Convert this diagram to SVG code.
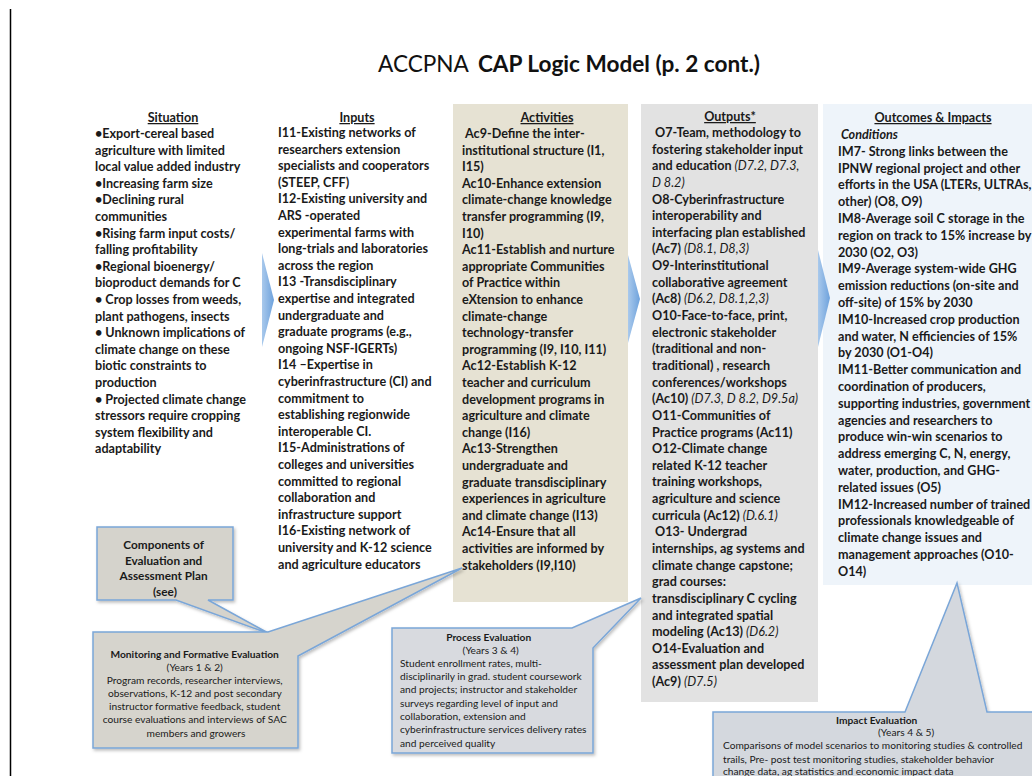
<svg xmlns="http://www.w3.org/2000/svg" width="1032" height="776" viewBox="0 0 1032 776">
<style>
.col{font-family:Lato,"Open Sans",sans-serif;font-weight:bold;font-size:12.6px;fill:#1a1a1a}
.hd{text-decoration:underline;text-anchor:middle}
.it{font-style:italic;font-weight:normal}
.co{font-family:Lato,"Open Sans",sans-serif;font-size:10.2px;fill:#1a1a1a}
.cb{font-weight:bold}
.big{font-size:11.8px}
.call{stroke:#7aa6d8;stroke-width:1.5;filter:url(#sh)}
.chev{fill:url(#cg)}
</style>
<defs>
<filter id="sh" x="-10%" y="-10%" width="130%" height="130%"><feDropShadow dx="1.5" dy="2" stdDeviation="1.5" flood-color="#000" flood-opacity="0.25"/></filter>
<linearGradient id="cg" x1="0" y1="0" x2="1" y2="0"><stop offset="0" stop-color="#a9c9ec"/><stop offset="1" stop-color="#6ea2dc"/></linearGradient>
</defs>
<rect width="1032" height="776" fill="#fff"/>
<line x1="10.5" y1="9" x2="10.5" y2="776" stroke="#000" stroke-width="1.5"/>
<text x="378" y="72" font-family="Lato,'Open Sans',sans-serif" font-size="22.6" fill="#111"><tspan>ACCPNA</tspan><tspan dx="9" font-weight="bold">CAP Logic Model (p. 2 cont.)</tspan></text>

<g id="backgrounds">
<rect x="453" y="104" width="175" height="498" fill="#e6e2d3"/>
<rect x="641" y="104" width="177" height="598" fill="#e2e2e2"/>
<rect x="823" y="104" width="215" height="481" fill="#eef4fa"/>
</g>

<g id="connectors">
<polygon class="chev" points="262,253 274,300 262,347"/>
<polygon class="chev" points="628,255 640,299 628,343"/>
<polygon class="chev" points="818,250 830,298 818,347"/>
</g>

<g id="situation">
<text class="col hd" x="173" y="122">Situation</text>
<text class="col" x="95" y="138">
<tspan x="95" dy="0">•Export-cereal based</tspan>
<tspan x="95" dy="16.6">agriculture with limited</tspan>
<tspan x="95" dy="16.6">local value added industry</tspan>
<tspan x="95" dy="16.6">•Increasing farm size</tspan>
<tspan x="95" dy="16.6">•Declining rural</tspan>
<tspan x="95" dy="16.6">communities</tspan>
<tspan x="95" dy="16.6">•Rising farm input costs/</tspan>
<tspan x="95" dy="16.6">falling profitability</tspan>
<tspan x="95" dy="16.6">•Regional bioenergy/</tspan>
<tspan x="95" dy="16.6">bioproduct demands for C</tspan>
<tspan x="95" dy="16.6">• Crop losses from weeds,</tspan>
<tspan x="95" dy="16.6">plant pathogens, insects</tspan>
<tspan x="95" dy="16.6">• Unknown implications of</tspan>
<tspan x="95" dy="16.6">climate change on these</tspan>
<tspan x="95" dy="16.6">biotic constraints to</tspan>
<tspan x="95" dy="16.6">production</tspan>
<tspan x="95" dy="16.6">• Projected climate change</tspan>
<tspan x="95" dy="16.6">stressors require cropping</tspan>
<tspan x="95" dy="16.6">system flexibility and</tspan>
<tspan x="95" dy="16.6">adaptability</tspan>
</text>
</g>

<g id="inputs">
<text class="col hd" x="357" y="122">Inputs</text>
<text class="col" x="278" y="137">
<tspan x="278" dy="0">I11-Existing networks of</tspan>
<tspan x="278" dy="16.6">researchers extension</tspan>
<tspan x="278" dy="16.6">specialists and cooperators</tspan>
<tspan x="278" dy="16.6">(STEEP, CFF)</tspan>
<tspan x="278" dy="16.6">I12-Existing university and</tspan>
<tspan x="278" dy="16.6">ARS -operated</tspan>
<tspan x="278" dy="16.6">experimental farms with</tspan>
<tspan x="278" dy="16.6">long-trials and laboratories</tspan>
<tspan x="278" dy="16.6">across the region</tspan>
<tspan x="278" dy="16.6">I13 -Transdisciplinary</tspan>
<tspan x="278" dy="16.6">expertise and integrated</tspan>
<tspan x="278" dy="16.6">undergraduate and</tspan>
<tspan x="278" dy="16.6">graduate programs (e.g.,</tspan>
<tspan x="278" dy="16.6">ongoing NSF-IGERTs)</tspan>
<tspan x="278" dy="16.6">I14 –Expertise in</tspan>
<tspan x="278" dy="16.6">cyberinfrastructure (CI) and</tspan>
<tspan x="278" dy="16.6">commitment to</tspan>
<tspan x="278" dy="16.6">establishing regionwide</tspan>
<tspan x="278" dy="16.6">interoperable CI.</tspan>
<tspan x="278" dy="16.6">I15-Administrations of</tspan>
<tspan x="278" dy="16.6">colleges and universities</tspan>
<tspan x="278" dy="16.6">committed to regional</tspan>
<tspan x="278" dy="16.6">collaboration and</tspan>
<tspan x="278" dy="16.6">infrastructure support</tspan>
<tspan x="278" dy="16.6">I16-Existing network of</tspan>
<tspan x="278" dy="16.6">university and K-12 science</tspan>
<tspan x="278" dy="16.6">and agriculture educators</tspan>
</text>
</g>

<g id="activities">
<text class="col hd" x="547" y="122">Activities</text>
<text class="col" x="462" y="138">
<tspan x="465" dy="0">Ac9-Define the inter-</tspan>
<tspan x="462" dy="16.6">institutional structure (I1,</tspan>
<tspan x="462" dy="16.6">I15)</tspan>
<tspan x="462" dy="16.6">Ac10-Enhance extension</tspan>
<tspan x="462" dy="16.6">climate-change knowledge</tspan>
<tspan x="462" dy="16.6">transfer programming (I9,</tspan>
<tspan x="462" dy="16.6">I10)</tspan>
<tspan x="462" dy="16.6">Ac11-Establish and nurture</tspan>
<tspan x="462" dy="16.6">appropriate Communities</tspan>
<tspan x="462" dy="16.6">of Practice within</tspan>
<tspan x="462" dy="16.6">eXtension to enhance</tspan>
<tspan x="462" dy="16.6">climate-change</tspan>
<tspan x="462" dy="16.6">technology-transfer</tspan>
<tspan x="462" dy="16.6">programming (I9, I10, I11)</tspan>
<tspan x="462" dy="16.6">Ac12-Establish K-12</tspan>
<tspan x="462" dy="16.6">teacher and curriculum</tspan>
<tspan x="462" dy="16.6">development programs in</tspan>
<tspan x="462" dy="16.6">agriculture and climate</tspan>
<tspan x="462" dy="16.6">change (I16)</tspan>
<tspan x="462" dy="16.6">Ac13-Strengthen</tspan>
<tspan x="462" dy="16.6">undergraduate and</tspan>
<tspan x="462" dy="16.6">graduate transdisciplinary</tspan>
<tspan x="462" dy="16.6">experiences in agriculture</tspan>
<tspan x="462" dy="16.6">and climate change (I13)</tspan>
<tspan x="462" dy="16.6">Ac14-Ensure that all</tspan>
<tspan x="462" dy="16.6">activities are informed by</tspan>
<tspan x="462" dy="16.6">stakeholders (I9,I10)</tspan>
</text>
</g>

<g id="outputs">
<text class="col hd" x="730" y="121">Outputs*</text>
<text class="col" x="652" y="137">
<tspan x="655" dy="0">O7-Team, methodology to</tspan>
<tspan x="652" dy="16.64">fostering stakeholder input</tspan>
<tspan x="652" dy="16.64">and education <tspan class="it">(D7.2, D7.3,</tspan></tspan>
<tspan x="652" dy="16.64" class="it">D 8.2)</tspan>
<tspan x="652" dy="16.64">O8-Cyberinfrastructure</tspan>
<tspan x="652" dy="16.64">interoperability and</tspan>
<tspan x="652" dy="16.64">interfacing plan established</tspan>
<tspan x="652" dy="16.64">(Ac7) <tspan class="it">(D8.1, D8,3)</tspan></tspan>
<tspan x="652" dy="16.64">O9-Interinstitutional</tspan>
<tspan x="652" dy="16.64">collaborative agreement</tspan>
<tspan x="652" dy="16.64">(Ac8) <tspan class="it">(D6.2, D8.1,2,3)</tspan></tspan>
<tspan x="652" dy="16.64">O10-Face-to-face, print,</tspan>
<tspan x="652" dy="16.64">electronic stakeholder</tspan>
<tspan x="652" dy="16.64">(traditional and non-</tspan>
<tspan x="652" dy="16.64">traditional) ,  research</tspan>
<tspan x="652" dy="16.64">conferences/workshops</tspan>
<tspan x="652" dy="16.64">(Ac10) <tspan class="it">(D7.3, D 8.2, D9.5a)</tspan></tspan>
<tspan x="652" dy="16.64">O11-Communities of</tspan>
<tspan x="652" dy="16.64">Practice programs (Ac11)</tspan>
<tspan x="652" dy="16.64">O12-Climate change</tspan>
<tspan x="652" dy="16.64">related K-12 teacher</tspan>
<tspan x="652" dy="16.64">training workshops,</tspan>
<tspan x="652" dy="16.64">agriculture and science</tspan>
<tspan x="652" dy="16.64">curricula (Ac12) <tspan class="it">(D.6.1)</tspan></tspan>
<tspan x="655" dy="16.64">O13- Undergrad</tspan>
<tspan x="652" dy="16.64">internships, ag systems and</tspan>
<tspan x="652" dy="16.64">climate change capstone;</tspan>
<tspan x="652" dy="16.64">grad courses:</tspan>
<tspan x="652" dy="16.64">transdisciplinary C  cycling</tspan>
<tspan x="652" dy="16.64">and integrated spatial</tspan>
<tspan x="652" dy="16.64">modeling (Ac13) <tspan class="it">(D6.2)</tspan></tspan>
<tspan x="652" dy="16.64">O14-Evaluation and</tspan>
<tspan x="652" dy="16.64">assessment plan developed</tspan>
<tspan x="652" dy="16.64">(Ac9) <tspan class="it">(D7.5)</tspan></tspan>
</text>
</g>

<g id="outcomes">
<text class="col hd" x="933" y="122">Outcomes &amp; Impacts</text>
<text class="col" x="838" y="139">
<tspan x="841" dy="0" font-style="italic">Conditions</tspan>
<tspan x="838" dy="16.8">IM7- Strong links between the</tspan>
<tspan x="838" dy="16.8">IPNW regional project and other</tspan>
<tspan x="838" dy="16.8">efforts in the USA (LTERs, ULTRAs,</tspan>
<tspan x="838" dy="16.8">other) (O8, O9)</tspan>
<tspan x="838" dy="16.8">IM8-Average soil C storage in the</tspan>
<tspan x="838" dy="16.8">region on track to 15% increase by</tspan>
<tspan x="838" dy="16.8">2030 (O2, O3)</tspan>
<tspan x="838" dy="16.8">IM9-Average system-wide GHG</tspan>
<tspan x="838" dy="16.8">emission reductions (on-site and</tspan>
<tspan x="838" dy="16.8">off-site) of 15% by 2030</tspan>
<tspan x="838" dy="16.8">IM10-Increased  crop production</tspan>
<tspan x="838" dy="16.8">and water, N efficiencies of  15%</tspan>
<tspan x="838" dy="16.8">by 2030  (O1-O4)</tspan>
<tspan x="838" dy="16.8">IM11-Better communication and</tspan>
<tspan x="838" dy="16.8">coordination of producers,</tspan>
<tspan x="838" dy="16.8">supporting industries, government</tspan>
<tspan x="838" dy="16.8">agencies and researchers to</tspan>
<tspan x="838" dy="16.8">produce win-win scenarios to</tspan>
<tspan x="838" dy="16.8">address emerging C, N, energy,</tspan>
<tspan x="838" dy="16.8">water, production, and GHG-</tspan>
<tspan x="838" dy="16.8">related issues (O5)</tspan>
<tspan x="838" dy="16.8">IM12-Increased number of trained</tspan>
<tspan x="838" dy="16.8">professionals knowledgeable of</tspan>
<tspan x="838" dy="16.8">climate change issues and</tspan>
<tspan x="838" dy="16.8">management approaches (O10-</tspan>
<tspan x="838" dy="16.8">O14)</tspan>
</text>
</g>

<g id="components">
<path class="call" fill="#d5d3cc" d="M97,527 H233 V600 H208 L270,634 L176,600 H97 Z"/>
<text class="co cb big" text-anchor="middle" x="165" y="549">
<tspan x="165" dy="0">Components of</tspan>
<tspan x="165" dy="15.5">Evaluation and</tspan>
<tspan x="165" dy="15.5">Assessment Plan</tspan>
<tspan x="165" dy="15.5">(see)</tspan>
</text>
</g>

<g id="monitoring">
<path class="call" fill="#d6d4cd" d="M93,632 H268 L462,568 L298,656 V748 H93 Z"/>
<text class="co" text-anchor="middle" x="196" y="658">
<tspan x="196" dy="0" class="cb">Monitoring and Formative Evaluation</tspan>
<tspan x="196" dy="12.5">(Years 1 &amp; 2)</tspan>
<tspan x="196" dy="13.2">Program records, researcher interviews,</tspan>
<tspan x="196" dy="13.2">observations, K-12 and post secondary</tspan>
<tspan x="196" dy="13.2">instructor formative feedback, student</tspan>
<tspan x="196" dy="13.2">course evaluations and interviews of SAC</tspan>
<tspan x="196" dy="13.2">members and growers</tspan>
</text>
</g>

<g id="process">
<path class="call" fill="#d8dadf" d="M392,628 H572 L641,598 L593,648 V753 H392 Z"/>
<text class="co" x="401" y="641">
<tspan x="490" dy="0" text-anchor="middle" class="cb">Process Evaluation</tspan>
<tspan x="492" dy="12.5" text-anchor="middle">(Years 3 &amp; 4)</tspan>
<tspan x="400" dy="13.3">Student enrollment rates, multi-</tspan>
<tspan x="400" dy="13.3">disciplinarily in grad. student coursework</tspan>
<tspan x="400" dy="13.3">and projects; instructor and stakeholder</tspan>
<tspan x="400" dy="13.3">surveys regarding level of input and</tspan>
<tspan x="400" dy="13.3">collaboration, extension and</tspan>
<tspan x="400" dy="13.3">cyberinfrastructure services delivery rates</tspan>
<tspan x="400" dy="13.3">and perceived quality</tspan>
</text>
</g>

<g id="impact">
<path class="call" fill="#d4d8de" d="M713,712 H905 L957,583 L987,712 H1045 V790 H713 Z"/>
<text class="co" x="723" y="724">
<tspan x="878" dy="0" text-anchor="middle" class="cb">Impact Evaluation</tspan>
<tspan x="878" dy="12">(Years 4 &amp; 5)</tspan>
<tspan x="723" dy="13">Comparisons of model scenarios to monitoring studies &amp; controlled</tspan>
<tspan x="723" dy="13.5">trails, Pre- post test monitoring studies, stakeholder behavior</tspan>
<tspan x="723" dy="12">change data, ag statistics and economic impact data</tspan>
</text>
</g>
</svg>
